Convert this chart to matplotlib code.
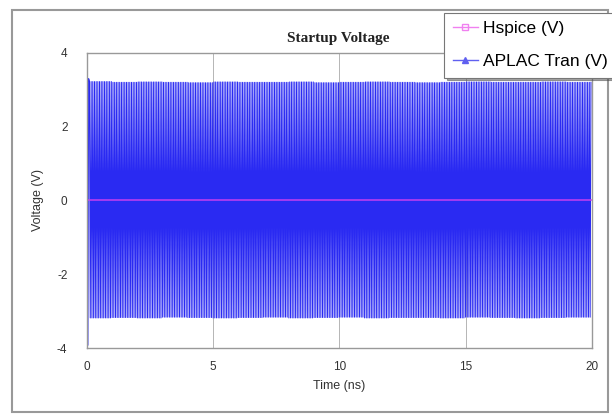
import numpy as np
import matplotlib
matplotlib.use('Agg')
from matplotlib import pyplot as plt
from matplotlib.lines import Line2D
from matplotlib.patches import Rectangle

plt.rcParams['axes.unicode_minus'] = False

'''
Data read from the reference chart
'''
# envelope of the APLAC oscillation, one value per ns segment [V]
segment_start_ns = [0, 1, 2, 3, 4, 5, 6, 7, 8, 9, 10, 11, 12, 13, 14, 15, 16, 17, 18, 19]
upper_peak = [3.22, 3.20, 3.21, 3.20, 3.19, 3.21, 3.20, 3.20, 3.21, 3.19,
              3.20, 3.21, 3.20, 3.19, 3.20, 3.21, 3.20, 3.20, 3.21, 3.20]
lower_peak = [-3.18, -3.17, -3.18, -3.16, -3.17, -3.18, -3.17, -3.16, -3.18, -3.17,
              -3.16, -3.18, -3.17, -3.17, -3.18, -3.16, -3.17, -3.18, -3.17, -3.16]
half_cycles_per_ns = 30

# startup transient at t = 0
startup_t = [0.0, 0.015, 0.04, 0.07]
startup_v = [0.0, 3.72, -3.92, 3.30]

# Hspice trace sits on 0 V
hspice_t = [0.0, 20.0]
hspice_v = [0.0, 0.0]

xticks = [0, 5, 10, 15, 20]
yticks = [-4, -2, 0, 2, 4]

'''
Build APLAC trace from the peak lists
'''
aplac_t = list(startup_t)
aplac_v = list(startup_v)
for t0, up, lo in zip(segment_start_ns, upper_peak, lower_peak):
    times = t0 + np.arange(half_cycles_per_ns) / half_cycles_per_ns
    for k, tt in enumerate(times):
        if tt <= startup_t[-1]:
            continue
        aplac_t.append(tt)
        aplac_v.append(lo if k % 2 == 0 else up)

'''
Plot
'''
fig = plt.figure(figsize=(6.12, 4.19), dpi=100)
ax = fig.add_axes([0.142, 0.169, 0.825, 0.705])

ax.plot(aplac_t, aplac_v, color='#2a2af2', linewidth=0.75)
ax.plot(hspice_t, hspice_v, color='#d040f0', linewidth=1.3, alpha=0.8)

ax.set_xlim(0, 20)
ax.set_ylim(-4, 4)
ax.set_xticks(xticks)
ax.set_yticks(yticks)
ax.tick_params(length=0, labelsize=8.5, colors='#333333')
ax.tick_params(axis='x', pad=9)
ax.tick_params(axis='y', pad=14)
for lbl in ax.get_xticklabels() + ax.get_yticklabels():
    lbl.set_family('Liberation Sans')
ax.xaxis.grid(True, color='#aaaaaa', linewidth=0.6)
for s in ax.spines.values():
    s.set_color('#999999')
    s.set_linewidth(1.0)

ax.set_xlabel('Time (ns)', fontsize=9, family='Liberation Sans', color='#333333', labelpad=5)
ax.set_ylabel('Voltage (V)', fontsize=9, family='Liberation Sans', color='#333333', labelpad=9)
fig.text(0.552, 0.909, 'Startup Voltage', fontsize=11, fontweight='bold',
         family='Liberation Serif', ha='center', va='center', color='#222222')

# outer frame
fig.patches.append(Rectangle((0.02, 0.017), 0.973, 0.96, transform=fig.transFigure,
                             fill=False, edgecolor='#999999', linewidth=1.5))

handles = [Line2D([0], [0], color='#f080f0', marker='s', markerfacecolor='none',
                  markersize=4, linewidth=1.0),
           Line2D([0], [0], color='#6060f0', marker='^', markersize=4, linewidth=1.0)]
leg = fig.legend(handles, ['Hspice (V)', 'APLAC Tran (V)'], loc='upper left',
                 bbox_to_anchor=(0.7255, 0.97), frameon=True, shadow=True,
                 fancybox=False, labelspacing=1.0, handlelength=1.45, handletextpad=0.3,
                 borderpad=0.5, borderaxespad=0.0, prop={'family': 'Liberation Sans', 'size': 12.5})
leg.get_frame().set_edgecolor('#777777')
leg.get_frame().set_linewidth(0.8)

fig.savefig('out.png', dpi=100)
